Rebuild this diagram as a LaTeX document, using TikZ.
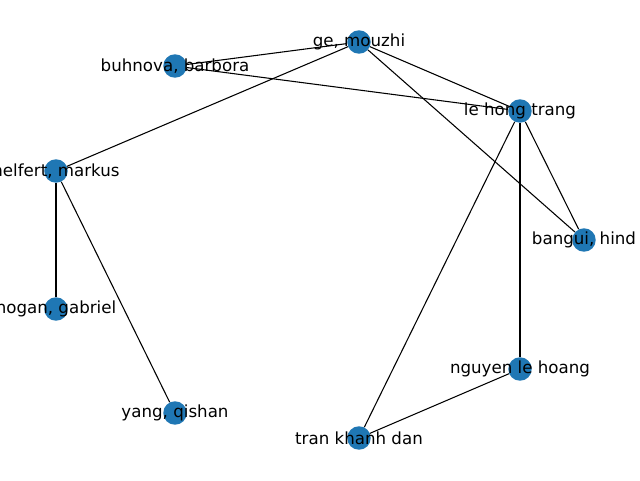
\documentclass[tikz,border=0pt]{standalone}
\usepackage{fontspec}
\setmainfont{DejaVu Sans}
\usetikzlibrary{backgrounds}
\definecolor{nxblue}{HTML}{1F77B4}
\tikzset{
  vert/.style={circle, fill=nxblue, minimum size=17.6pt, inner sep=0pt},
  vlabel/.style={font=\fontsize{12.5pt}{14pt}\selectfont, inner sep=0pt, anchor=center},
  edge/.style={draw=black, line width=0.8pt}
}
\begin{document}
\begin{tikzpicture}[x=0.75pt, y=-0.75pt]
\clip (0,0) rectangle (640,480);
\node[vert] (ge) at (359,42) {};
\node[vert] (bu) at (175,66) {};
\node[vert] (le) at (520,111) {};
\node[vert] (he) at (56,171) {};
\node[vert] (ba) at (584,240) {};
\node[vert] (ho) at (56,309) {};
\node[vert] (ng) at (520,369) {};
\node[vert] (ya) at (175,413) {};
\node[vert] (tr) at (359,438) {};
\begin{scope}[on background layer]
\fill[white] (0,0) rectangle (640,480);
\draw[edge] (ge) -- (bu);
\draw[edge] (ge) -- (le);
\draw[edge] (ge) -- (he);
\draw[edge] (ge) -- (ba);
\draw[edge] (bu) -- (le);
\draw[edge] (le) -- (ba);
\draw[edge] (le) -- (ng);
\draw[edge] (le) -- (tr);
\draw[edge] (ng) -- (tr);
\draw[edge] (he) -- (ho);
\draw[edge] (he) -- (ya);
\end{scope}
\node[vlabel] (geL) at (ge.center) {ge, mouzhi};
\node[vlabel] (buL) at (bu.center) {buhnova, barbora};
\node[vlabel] (leL) at (le.center) {le hong trang};
\node[vlabel] (heL) at (he.center) {helfert, markus};
\node[vlabel] (baL) at (ba.center) {bangui, hind};
\node[vlabel] (hoL) at (ho.center) {hogan, gabriel};
\node[vlabel] (ngL) at (ng.center) {nguyen le hoang};
\node[vlabel] (yaL) at (ya.center) {yang, qishan};
\node[vlabel] (trL) at (tr.center) {tran khanh dan};
\end{tikzpicture}
\end{document}
